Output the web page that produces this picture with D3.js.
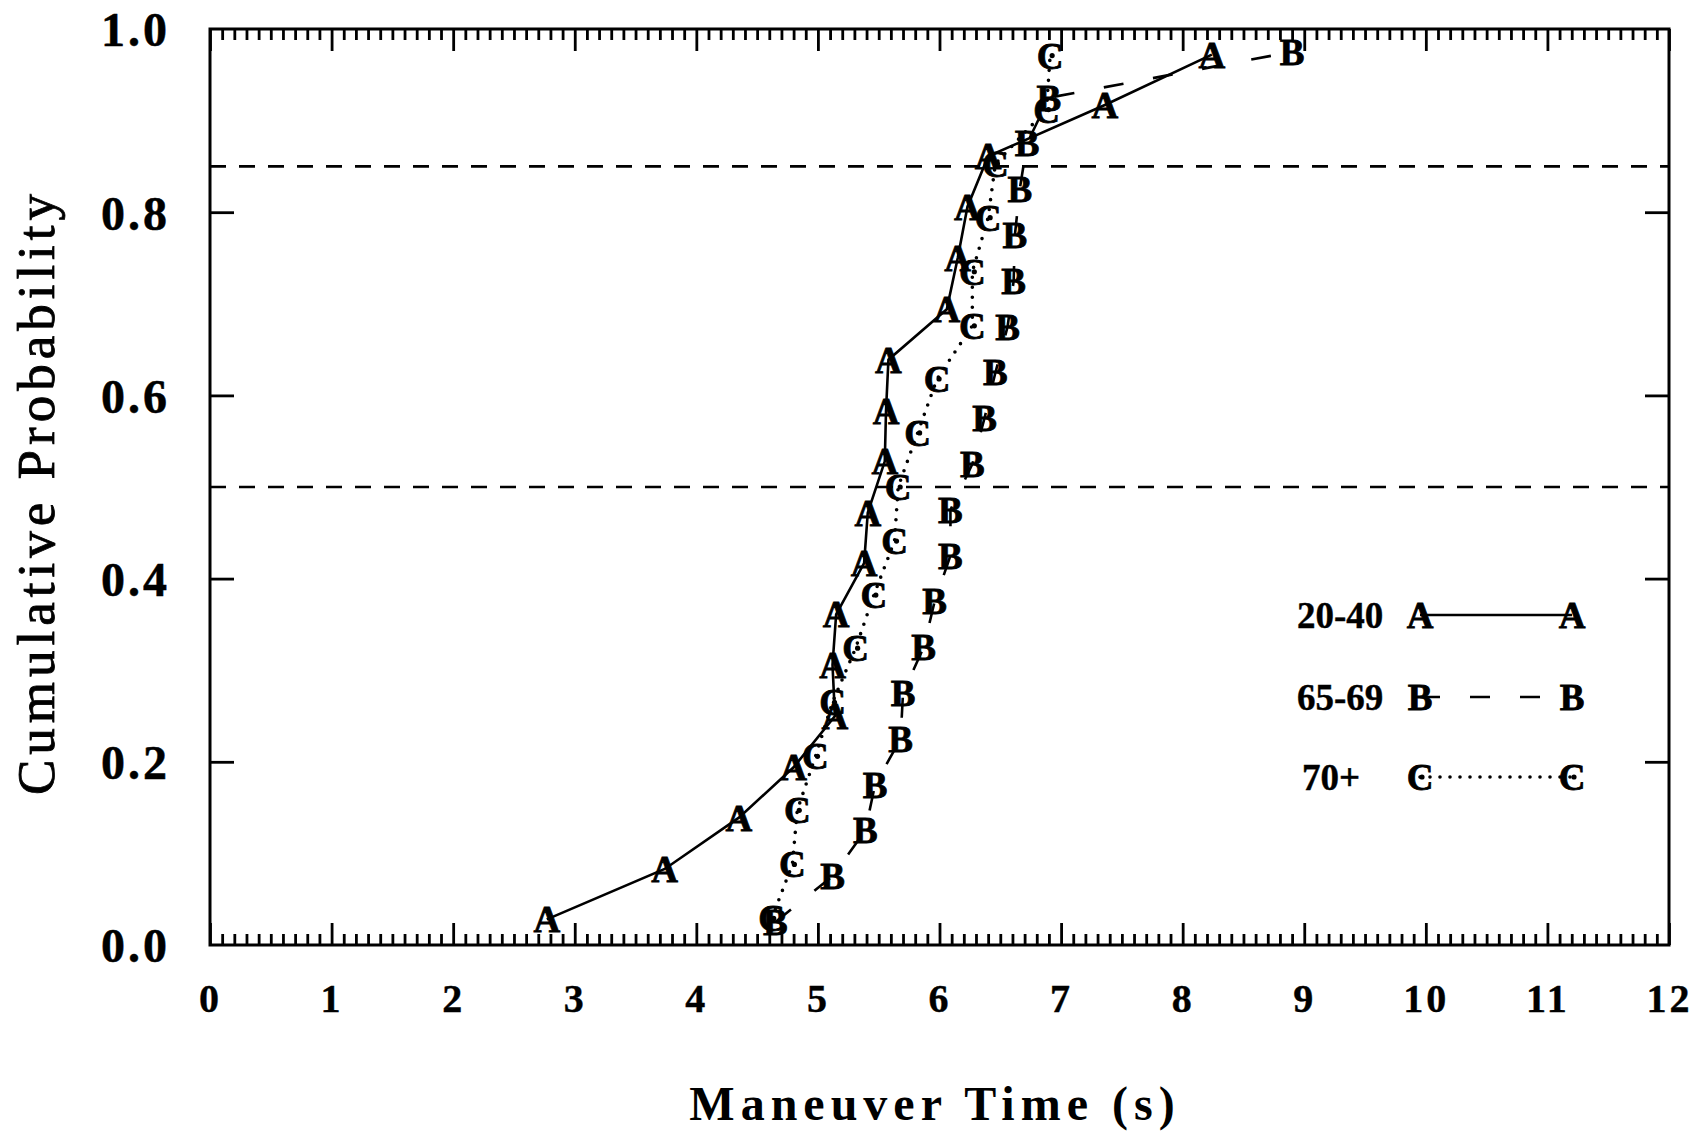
<!DOCTYPE html>
<html>
<head>
<meta charset="utf-8">
<script src="https://cdn.jsdelivr.net/npm/d3@7"></script>
<style>
  html, body { margin: 0; padding: 0; background: #fff; }
  svg { display: block; }
</style>
</head>
<body>
<svg id="chart" width="1701" height="1136"></svg>
<script>
// Cumulative distributions of maneuver time for three driver age groups
const groupNames = ["20-40", "65-69", "70+"];
const markerLetters = ["A", "B", "C"];

const timeA = [2.77, 3.74, 4.35, 4.80, 5.14, 5.12, 5.15, 5.38, 5.41, 5.55, 5.56, 5.58, 6.06, 6.15, 6.23, 6.40, 7.36, 8.24];
const probA = [0.028, 0.083, 0.139, 0.194, 0.250, 0.306, 0.361, 0.417, 0.472, 0.528, 0.583, 0.639, 0.694, 0.750, 0.806, 0.861, 0.917, 0.972];

const timeB = [4.65, 5.12, 5.39, 5.47, 5.68, 5.70, 5.87, 5.96, 6.09, 6.09, 6.27, 6.37, 6.46, 6.56, 6.61, 6.62, 6.66, 6.72, 6.90, 8.90];
const probB = [0.025, 0.075, 0.125, 0.175, 0.225, 0.275, 0.325, 0.375, 0.425, 0.475, 0.525, 0.575, 0.625, 0.675, 0.725, 0.775, 0.825, 0.875, 0.925, 0.975];

const timeC = [4.62, 4.79, 4.83, 4.98, 5.12, 5.31, 5.46, 5.63, 5.66, 5.82, 5.98, 6.27, 6.27, 6.40, 6.46, 6.88, 6.91];
const probC = [0.029, 0.088, 0.147, 0.206, 0.265, 0.324, 0.382, 0.441, 0.500, 0.559, 0.618, 0.676, 0.735, 0.794, 0.853, 0.912, 0.971];

const xTickValues = [0, 1, 2, 3, 4, 5, 6, 7, 8, 9, 10, 11, 12];
const yTickValues = [0, 0.2, 0.4, 0.6, 0.8, 1.0];
const yTickLabels = ["0.0", "0.2", "0.4", "0.6", "0.8", "1.0"];
const referenceLevels = [0.5, 0.85];

const xTitle = "Maneuver Time (s)";
const yTitle = "Cumulative Probability";

// ---- layout ----
const W = 1701, H = 1136;
const plotLeft = 210, plotRight = 1669, plotTop = 29, plotBottom = 945;
const serif = "'Liberation Serif', 'Times New Roman', serif";

const svg = d3.select("#chart");
svg.append("rect").attr("width", W).attr("height", H).attr("fill", "#fff");

const x = d3.scaleLinear().domain([0, 12]).range([plotLeft, plotRight]);
const y = d3.scaleLinear().domain([0, 1]).range([plotBottom, plotTop]);

const minorX = d3.range(0, 121).map(i => i / 10).filter(v => Math.abs(v - Math.round(v)) > 1e-6);

function styleAxis(g) {
  g.select(".domain").remove();
  g.selectAll(".tick line").attr("stroke", "#000").attr("stroke-width", 2.8);
  g.attr("font-family", serif).attr("font-weight", "bold");
}

// bottom axis: minor + major ticks pointing inward, with labels
svg.append("g").attr("transform", `translate(0,${plotBottom})`)
  .call(d3.axisBottom(x).tickValues(minorX).tickSize(-11).tickFormat(""))
  .call(styleAxis);
const xAxisG = svg.append("g").attr("transform", `translate(0,${plotBottom})`)
  .call(d3.axisBottom(x).tickValues(xTickValues).tickSize(-22).tickFormat(d3.format("d")))
  .call(styleAxis);
xAxisG.selectAll(".tick text")
  .attr("y", 53).attr("dy", "0.35em")
  .attr("font-size", 40).attr("letter-spacing", 3).attr("fill", "#000")
  .attr("stroke", "#000").attr("stroke-width", 0.4);

// top axis: ticks only
svg.append("g").attr("transform", `translate(0,${plotTop})`)
  .call(d3.axisTop(x).tickValues(minorX).tickSize(-11).tickFormat(""))
  .call(styleAxis);
svg.append("g").attr("transform", `translate(0,${plotTop})`)
  .call(d3.axisTop(x).tickValues(xTickValues).tickSize(-22).tickFormat(""))
  .call(styleAxis);

// left axis with labels
const yAxisG = svg.append("g").attr("transform", `translate(${plotLeft},0)`)
  .call(d3.axisLeft(y).tickValues(yTickValues).tickSize(-24)
    .tickFormat((d, i) => yTickLabels[i]))
  .call(styleAxis);
yAxisG.selectAll(".tick text")
  .attr("x", -40).attr("dy", "0.35em")
  .attr("font-size", 48).attr("letter-spacing", 3).attr("fill", "#000")
  .attr("stroke", "#000").attr("stroke-width", 0.5);
yAxisG.selectAll(".tick").filter(d => d === 0 || d === 1).select("line").remove();

// right axis: ticks only
const yRightG = svg.append("g").attr("transform", `translate(${plotRight},0)`)
  .call(d3.axisRight(y).tickValues(yTickValues).tickSize(-24).tickFormat(""))
  .call(styleAxis);
yRightG.selectAll(".tick").filter(d => d === 0 || d === 1).select("line").remove();

// frame
svg.append("rect")
  .attr("x", plotLeft).attr("y", plotTop)
  .attr("width", plotRight - plotLeft).attr("height", plotBottom - plotTop)
  .attr("fill", "none").attr("stroke", "#000").attr("stroke-width", 3);

// dashed reference levels
svg.append("g").selectAll("line").data(referenceLevels).join("line")
  .attr("x1", plotLeft).attr("x2", plotRight)
  .attr("y1", d => y(d)).attr("y2", d => y(d))
  .attr("stroke", "#000").attr("stroke-width", 2.6)
  .attr("stroke-dasharray", "16,13");

// axis titles
svg.append("text")
  .attr("x", 935).attr("y", 1103).attr("dy", "0.35em")
  .attr("text-anchor", "middle")
  .attr("font-family", serif).attr("font-weight", "bold")
  .attr("font-size", 48).attr("letter-spacing", 6)
  .text(xTitle);

svg.append("text")
  .attr("transform", "translate(35,492) rotate(-90)")
  .attr("dy", "0.35em")
  .attr("text-anchor", "middle")
  .attr("font-family", serif).attr("font-weight", "normal")
  .attr("stroke", "#000").attr("stroke-width", 0.8)
  .attr("font-size", 53).attr("letter-spacing", 5)
  .text(yTitle);

// ---- series ----
const series = [
  { name: groupNames[0], letter: markerLetters[0], xs: timeA, ys: probA, dash: null, width: 2.6, cap: "butt" },
  { name: groupNames[1], letter: markerLetters[1], xs: timeB, ys: probB, dash: "20,30", width: 2.6, cap: "butt" },
  { name: groupNames[2], letter: markerLetters[2], xs: timeC, ys: probC, dash: "0,10", width: 3.6, cap: "round" }
];

const line = d3.line().x(d => x(d[0])).y(d => y(d[1]));

function drawMarker(g, px, py, s) {
  g.append("text")
    .attr("x", px).attr("y", py).attr("dy", "0.35em")
    .attr("text-anchor", "middle")
    .attr("font-family", serif).attr("font-weight", "bold")
    .attr("font-size", 37).attr("fill", "#000")
    .attr("stroke", "#000").attr("stroke-width", 0.8)
    .text(s.letter);
  if (s.letter === "C") {
    g.append("circle").attr("cx", px + 2).attr("cy", py).attr("r", 2.6).attr("fill", "#000");
  }
}

series.forEach(s => {
  const pts = s.xs.map((v, i) => [v, s.ys[i]]);
  const g = svg.append("g").attr("class", "series");
  g.append("path")
    .attr("d", line(pts))
    .attr("fill", "none").attr("stroke", "#000")
    .attr("stroke-width", s.width)
    .attr("stroke-linecap", s.cap)
    .attr("stroke-dasharray", s.dash);
  pts.forEach(p => drawMarker(g, x(p[0]), y(p[1]), s));
});

// ---- legend ----
const legendY = [615, 697, 777];
const legendTextX = [1297, 1297, 1302];
const legendX1 = 1420, legendX2 = 1572;
series.forEach((s, i) => {
  const g = svg.append("g").attr("class", "legend-item");
  g.append("text")
    .attr("x", legendTextX[i]).attr("y", legendY[i]).attr("dy", "0.35em")
    .attr("font-family", serif).attr("font-weight", "bold")
    .attr("font-size", 37).attr("fill", "#000")
    .attr("stroke", "#000").attr("stroke-width", 0.4)
    .text(s.name);
  g.append("line")
    .attr("x1", legendX1).attr("x2", legendX2)
    .attr("y1", legendY[i]).attr("y2", legendY[i])
    .attr("stroke", "#000").attr("stroke-width", s.width)
    .attr("stroke-linecap", s.cap)
    .attr("stroke-dasharray", s.dash);
  drawMarker(g, legendX1, legendY[i], s);
  drawMarker(g, legendX2, legendY[i], s);
});
</script>
</body>
</html>
